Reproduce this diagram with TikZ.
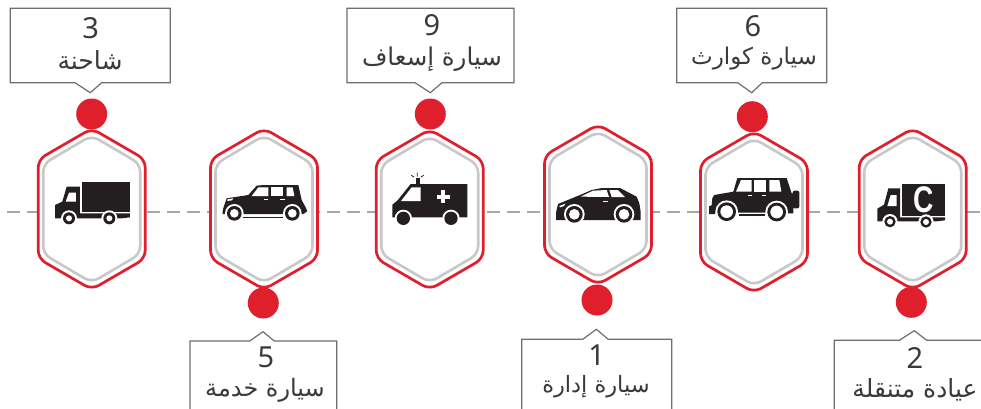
\documentclass[tikz,border=0pt]{standalone}
\usepackage{fontspec}
\setmainfont{Noto Sans}
\newfontfamily\arabicfont[Script=Arabic]{DejaVu Sans}
\newfontfamily\capfont{Liberation Sans}
\TeXXeTstate=1
\definecolor{hexred}{HTML}{E01F2D}
\definecolor{hexgray}{HTML}{C8C8C8}
\definecolor{ink}{HTML}{231F20}
\definecolor{textink}{HTML}{3A3A3C}
\definecolor{boxline}{HTML}{6D6E70}
\definecolor{dashline}{HTML}{A8A8A8}
\tikzset{
  hexout/.style={draw=hexred,line width=2.7pt,fill=white,rounded corners=8pt},
  hexin/.style={draw=hexgray,line width=2.6pt,rounded corners=8pt},
  dot/.style={circle,fill=hexred,draw=none,minimum size=31pt,inner sep=0pt},
  callout/.style={draw=boxline,line width=1.2pt,fill=white,line join=miter},
  numtext/.style={text=textink,font=\fontsize{29}{30}\selectfont,inner sep=0pt},
  arlabel/.style={text=textink,font=\arabicfont\fontsize{#1}{24}\selectfont,inner sep=0pt},
  icon/.style={fill=ink,draw=none},
  cutout/.style={fill=white,draw=none},
}
\newcommand{\hexa}[3]{%
  \draw[hexout] (#1,{#2-2.5}) -- ({#1+53.5},{#2+28.5}) -- ({#1+53.5},{#3-28.5}) -- (#1,{#3+2.5}) -- ({#1-53.5},{#3-28.5}) -- ({#1-53.5},{#2+28.5}) -- cycle;
  \draw[hexin] (#1,{#2+4.5}) -- ({#1+48.5},{#2+33}) -- ({#1+48.5},{#3-33}) -- (#1,{#3-4.5}) -- ({#1-48.5},{#3-33}) -- ({#1-48.5},{#2+33}) -- cycle;
}
% wheel: x, y, cut radius, tyre radius, hub radius
\newcommand{\wheelat}[5]{%
  \fill[cutout] (#1,#2) circle[radius=#3];
  \fill[icon] (#1,#2) circle[radius=#4];
  \fill[cutout] (#1,#2) circle[radius=#5];
}
\begin{document}
\begin{tikzpicture}[x=1pt,y=-1pt]
\clip (0,0) rectangle (981,408);
\fill[white] (0,0) rectangle (981,408);
\coordinate (lineA) at (7,212);
\coordinate (lineB) at (981,212);
\draw[dashline,line width=1.8pt,dash pattern=on 12.5pt off 7.5pt] (lineA) -- (lineB);

\hexa{91.7}{131}{287}
\hexa{264}{131}{287}
\hexa{429.7}{132}{287}
\hexa{598}{127}{282}
\hexa{754}{134}{290}
\hexa{912.7}{131}{287}

\node[dot] (d3) at (91.7,114) {};
\node[dot] (d5) at (263.3,303) {};
\node[dot] (d9) at (430.3,114) {};
\node[dot] (d1) at (597,300) {};
\node[dot] (d6) at (752.3,116.7) {};
\node[dot] (d2) at (911.3,302.3) {};

% callouts
\draw[callout] (10.3,8.3) -- (170.3,8.3) -- (170.3,82.7) -- (101.7,82.7) -- (90.3,92.7) -- (75,82.7) -- (10.3,82.7) -- cycle;
\draw[callout] (347,8.3) -- (514,8.3) -- (514,82.7) -- (442,82.7) -- (430.3,92.7) -- (415,82.7) -- (347,82.7) -- cycle;
\draw[callout] (676.7,8.3) -- (826.7,8.3) -- (826.7,82.7) -- (762.3,82.7) -- (751.7,92.7) -- (737.7,82.7) -- (676.7,82.7) -- cycle;
\draw[callout] (190,420) -- (190,341) -- (249.7,341) -- (263,331.7) -- (274.3,341) -- (336.7,341) -- (336.7,420);
\draw[callout] (521.7,420) -- (521.7,339.3) -- (582.7,339.3) -- (596.3,329.3) -- (608.3,339.3) -- (671.7,339.3) -- (671.7,420);
\draw[callout] (834.3,420) -- (834.3,340.3) -- (899.3,340.3) -- (914.3,330.7) -- (926.7,340.3) -- (990,340.3);

% texts
\node[numtext] (n3) at (90.7,28) {3};
\node[arlabel=25] (t3) at (90,60) {\beginR شاحنة\endR};
\node[numtext] (n9) at (432,25) {9};
\node[arlabel=24.5] (t9) at (432,59) {\beginR سيارة إسعاف\endR};
\node[numtext] (n6) at (753,26) {6};
\node[arlabel=23] (t6) at (754,59) {\beginR سيارة كوارث\endR};
\node[numtext] (n5) at (266,357) {5};
\node[arlabel=24] (t5) at (265,390) {\beginR سيارة خدمة\endR};
\node[numtext] (n1) at (596.7,355) {1};
\node[arlabel=22.5] (t1) at (596,387) {\beginR سيارة إدارة\endR};
\node[numtext] (n2) at (915,358) {2};
\node[arlabel=25] (t2) at (915,390) {\beginR عيادة متنقلة\endR};

% truck
\begin{scope}[shift={(50,175)},x=0.3333pt,y=-0.3333pt]
  \fill[icon] (97,22) rectangle (240,112);
  \fill[icon] (15,130) -- (15,90) -- (37,80) -- (50,35) -- (90,35) -- (90,115) -- (240,115) -- (240,127) -- (215,130) -- cycle;
  \fill[cutout] (57,53) -- (78,53) -- (78,80) -- (47,80) -- cycle;
  \wheelat{57}{130}{24}{18}{9}
  \wheelat{178}{130}{24}{18}{9}
\end{scope}

% service car
\begin{scope}[shift={(220,178)},x=0.3333pt,y=-0.3333pt]
  \fill[icon] (8,100) -- (10,90) -- (20,61) -- (85,51) -- (110,23) -- (130,21) -- (235,21) -- (245,66) -- (258,90) -- (262,100) -- (250,108) -- (8,108) -- cycle;
  \fill[icon] (70,116) rectangle (190,120);
  \fill[cutout] (95,54) -- (115,28) -- (145,28) -- (145,54) -- cycle;
  \fill[cutout] (152,28) -- (190,28) -- (190,54) -- (152,54) -- cycle;
  \fill[cutout] (200,28) -- (218,28) -- (223,54) -- (200,54) -- cycle;
  \fill[cutout] (132,62) rectangle (145,65);
  \fill[cutout] (180,62) rectangle (195,65);
  \fill[cutout] (22,64) -- (40,61) -- (36,67) -- (22,69) -- cycle;
  \wheelat{43}{106}{28}{22}{13}
  \wheelat{217}{106}{28}{22}{13}
\end{scope}

% ambulance
\begin{scope}[shift={(388,168)},x=0.3333pt,y=-0.3333pt]
  \fill[icon] (13,148) -- (13,110) -- (28,98) -- (68,48) -- (238,48) -- (238,148) -- cycle;
  \fill[icon] (83,30) rectangle (95,48);
  \draw[ink,line width=0.8pt] (88,14) -- (88,26) (70,22) -- (78,27) (107,22) -- (99,27);
  \fill[cutout] (39,99) -- (71,58) -- (98,58) -- (98,99) -- cycle;
  \fill[cutout] (160,67) rectangle (172,105);
  \fill[cutout] (147,80) rectangle (185,92);
  \fill[cutout] (46,151) circle[radius=26];
  \fill[icon] (46,151) circle[radius=20];
  \fill[cutout] (189,151) circle[radius=26];
  \fill[icon] (189,151) circle[radius=20];
\end{scope}

% car
\begin{scope}[shift={(552,180)},x=0.3333pt,y=-0.3333pt]
  \fill[icon] (12,120) -- (12,98) -- (18,72) -- (84,45) -- (119,30) -- (150,24) -- (204,24) -- (254,50) -- (262,70) -- (266,95) -- (266,120) -- cycle;
  \fill[cutout] (86,50) -- (123,32) -- (164,30) -- (171,51) -- cycle;
  \fill[cutout] (172,30) -- (198,30) -- (219,51) -- (179,51) -- cycle;
  \fill[cutout] (152,62) rectangle (167,66);
  \fill[cutout] (22,78) -- (40,71) -- (36,78) -- (24,82) -- cycle;
  \wheelat{67}{103}{31}{25}{16}
  \wheelat{216}{103}{31}{25}{16}
\end{scope}

% off-road car
\begin{scope}[shift={(705,172)},x=0.3333pt,y=-0.3333pt]
  \fill[icon] (12,126) -- (12,103) -- (20,100) -- (22,78) -- (28,69) -- (85,59) -- (97,18) -- (245,18) -- (260,64) -- (265,64) -- (265,124) -- (245,124) -- (245,122) -- (30,122) -- (30,126) -- cycle;
  \fill[icon, rounded corners=2pt] (263,56) rectangle (283,109);
  \fill[cutout] (93,59) -- (108,24) -- (140,24) -- (140,59) -- cycle;
  \fill[cutout] (148,24) -- (183,24) -- (183,59) -- (148,59) -- cycle;
  \fill[cutout] (193,24) -- (223,24) -- (229,59) -- (193,59) -- cycle;
  \fill[cutout] (128,68) rectangle (140,72);
  \fill[cutout] (172,68) rectangle (184,72);
  \wheelat{65}{119}{34}{28}{19}
  \wheelat{215}{120}{34}{28}{19}
  \fill[icon] (103,127) rectangle (180,131);
\end{scope}

% clinic truck
\begin{scope}[shift={(873,178)},x=0.3333pt,y=-0.3333pt]
  \fill[icon] (88,17) rectangle (216,113);
  \fill[icon] (13,130) -- (13,92) -- (33,80) -- (46,31) -- (81,31) -- (81,118) -- (216,118) -- (216,127) -- (190,130) -- cycle;
  \fill[cutout] (53,51) -- (71,51) -- (71,84) -- (43,84) -- cycle;
  \wheelat{51}{131}{23}{17}{9}
  \wheelat{159}{132}{23}{17}{9}
  \node[text=white,inner sep=0pt,font=\capfont\bfseries\fontsize{37}{37}\selectfont] (capC) at (152,65) {\scalebox{0.76}[1]{C}};
\end{scope}
\end{tikzpicture}
\end{document}
